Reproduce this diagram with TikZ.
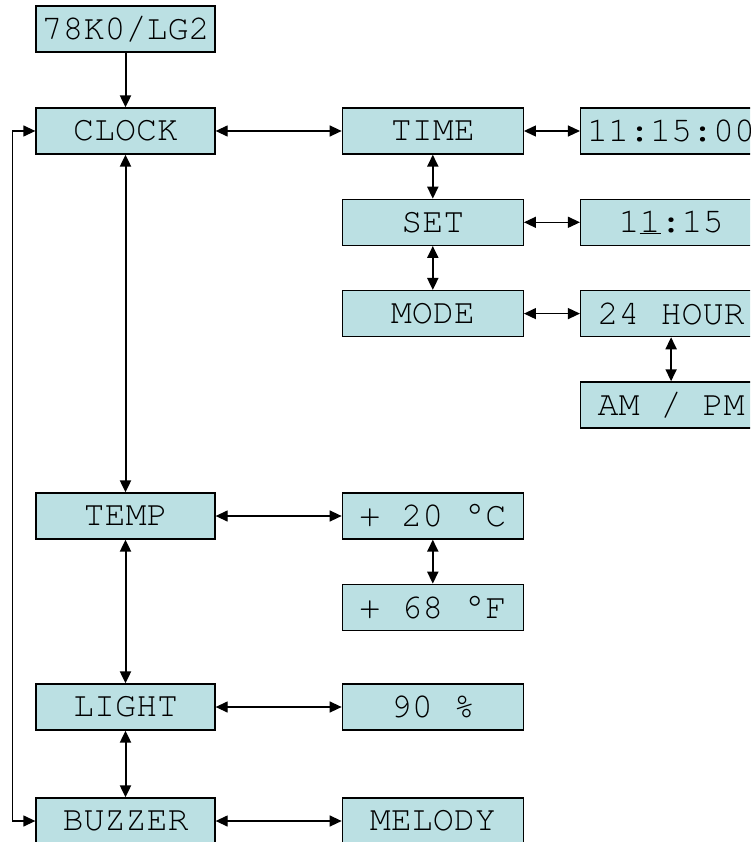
\documentclass[tikz,border=0pt]{standalone}
\usepackage{fontspec}
\setmonofont{texgyrecursor-regular.otf}
\usetikzlibrary{arrows.meta,positioning}
\definecolor{lcdcyan}{RGB}{187,224,227}

\begin{document}
\begin{tikzpicture}[x=1pt, y=-1pt,
  menubox/.style={draw=black, line width=1.3pt, fill=lcdcyan, font=\fontsize{35}{40}\selectfont\ttfamily, minimum height=46pt, minimum width=179pt, inner sep=0pt},
  valbox/.style={menubox, minimum width=181pt},
  dblarr/.style={{Triangle[length=12pt,width=11pt]}-{Triangle[length=12pt,width=11pt]}, line width=1.3pt},
  vdblarr/.style={dblarr, line width=2pt},
  onearr/.style={-{Triangle[length=12pt,width=11pt]}, line width=2pt}
]
\useasboundingbox (0,0) rectangle (750,842);
\clip (0,0) rectangle (750,842);
% main menu column
\node[menubox] (chip) at (125.5,29) {78K0/LG2};
\node[menubox] (clock) at (125.5,131) {CLOCK};
\node[menubox] (temp) at (125.5,516) {TEMP};
\node[menubox] (light) at (125.5,707) {LIGHT};
\node[menubox] (buzzer) at (125.5,821) {BUZZER};
% sub menus
\node[valbox, right=126pt of clock] (time) {TIME};
\node[valbox, below=44pt of time] (set) {SET};
\node[valbox, below=44pt of set] (mode) {MODE};
\node[valbox, right=56pt of time] (timeval) {11:15:00};
\node[valbox, right=56pt of set] (setval) {1\underline{1}:15};
\node[valbox, right=56pt of mode] (hour) {24 HOUR};
\node[valbox, below=44pt of hour] (ampm) {AM / PM};
\node[valbox, right=126pt of temp] (celsius) {+ 20 °C};
\node[valbox, below=44pt of celsius] (fahr) {+ 68 °F};
\node[valbox, right=126pt of light] (pct) {90 \%};
\node[valbox, right=126pt of buzzer] (melody) {MELODY};
\draw[onearr] (chip) -- (clock);
\draw[dblarr] (clock) -- (time);
\draw[dblarr] (time) -- (timeval);
\draw[vdblarr] (time) -- (set);
\draw[dblarr] (set) -- (setval);
\draw[vdblarr] (set) -- (mode);
\draw[dblarr] (mode) -- (hour);
\draw[vdblarr] (hour) -- (ampm);
\draw[vdblarr] (clock) -- (temp);
\draw[dblarr] (temp) -- (celsius);
\draw[vdblarr] (celsius) -- (fahr);
\draw[vdblarr] (temp) -- (light);
\draw[dblarr] (light) -- (pct);
\draw[vdblarr] (light) -- (buzzer);
\draw[dblarr] (buzzer) -- (melody);
\draw[dblarr] (clock.west) -- ++(-23,0) |- (buzzer.west);
\end{tikzpicture}
\end{document}
